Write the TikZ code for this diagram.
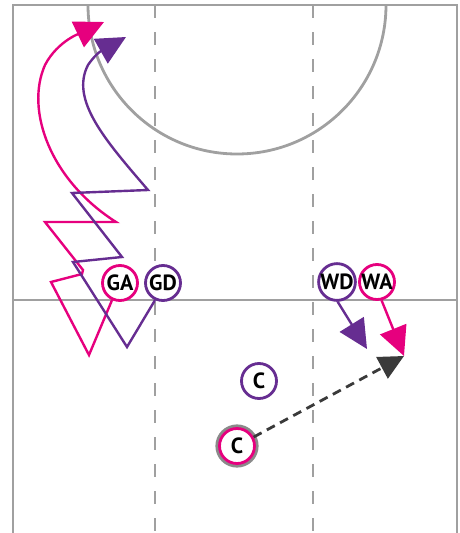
\documentclass[tikz,border=0pt]{standalone}
\usepackage{fontspec}
\setmainfont{PT Sans}
\usetikzlibrary{arrows.meta}
\definecolor{pk}{HTML}{E6007E}
\definecolor{pu}{HTML}{662D91}
\definecolor{court}{HTML}{A0A0A0}
\definecolor{dk}{HTML}{3A3A3A}
\definecolor{ring}{HTML}{8A8A8A}
\newcommand{\plfont}{\fontsize{22}{22}\selectfont\bfseries}
\begin{document}
\begin{tikzpicture}[x=1pt,y=-1pt,
  player/.style={circle, draw=#1, line width=2.8pt, fill=white, minimum size=35pt, inner sep=0pt,
    font=\plfont},
  courtline/.style={draw=court, line width=2.8pt},
  third/.style={draw=court, line width=1.6pt, dash pattern=on 13pt off 14pt},
  run/.style={line width=2.4pt, draw=#1, -{Triangle[length=29pt,width=28pt]}},
  pass/.style={draw=dk, line width=2.8pt, dash pattern=on 9pt off 6pt, -{Triangle[length=25pt,width=24pt]}}]
\useasboundingbox (0,0) rectangle (459,533);
% court
\draw[third] (155,5) -- (155,540);
\draw[third] (313,5) -- (313,540);
\draw[courtline] (13,540) -- (13,5) -- (457,5) -- (457,540);
\draw[courtline] (13,300) -- (457,300);
\draw[courtline] (88,5) arc[start angle=180, end angle=0, radius=149];
% players
\draw[ring, line width=3.2pt] (237,446) circle (20);
\node[player=pk] (GA) at (120,283) {GA};
\node[player=pu] (GD) at (163,283) {GD};
\node[player=pu] (WD) at (337,282) {WD};
\node[player=pk] (WA) at (377,282) {WA};
\node[player=pu] (C1) at (259,381) {C};
\node[player=pk] (C2) at (237,446) {C};
% free ends
\coordinate (gaT) at (104,22);
\coordinate (gdT) at (126,37);
\coordinate (wdT) at (367,349);
\coordinate (waT) at (404,356);
\coordinate (cT) at (404,356);
% runs
\draw[run=pk] (GA.-115) -- (89,355) -- (51,282) -- (82,274) -- (83,270) -- (45,222) -- (116,222)
  .. controls (50,180) and (25,110) .. (45,65) .. controls (58,40) and (83,32) .. (gaT);
\draw[run=pu] (GD.-115) -- (127,347) -- (73,262) -- (122,257) -- (72,193) -- (148,190)
  .. controls (105,140) and (70,100) .. (88,65) .. controls (97,52) and (103,50) .. (gdT);
\draw[run=pu] (WD.-88) -- (wdT);
\draw[run=pk] (WA.-76) -- (waT);
\draw[pass] (C2) -- (cT);
\end{tikzpicture}
\end{document}
